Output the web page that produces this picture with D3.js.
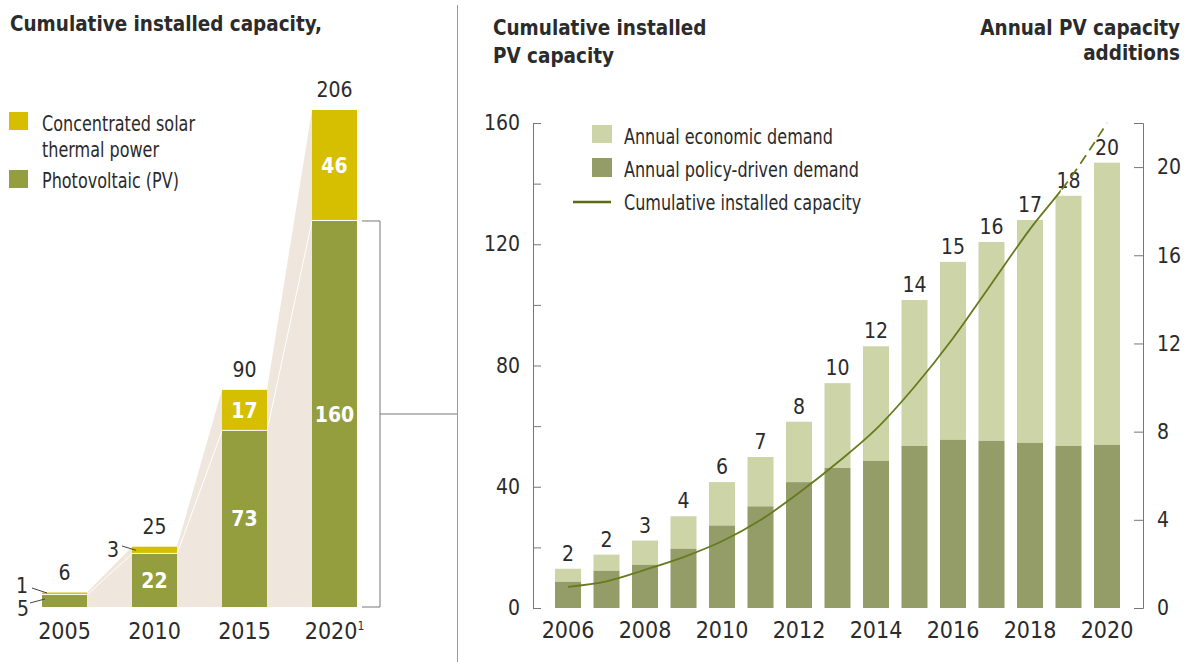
<!DOCTYPE html>
<html>
<head>
<meta charset="utf-8">
<script src="https://cdn.jsdelivr.net/npm/d3@7"></script>
<style>
  body { margin: 0; background: #fff; }
  svg text { font-family: "Liberation Sans Narrow", "DejaVu Sans Condensed", "Roboto Condensed", sans-serif; fill: #2b2b2b; }
  .bold { font-weight: bold; }
</style>
</head>
<body>
<div id="chart"></div>
<script>
// left panel: cumulative installed capacity by technology
const stackYears = ["2005", "2010", "2015", "2020"];
const pvValues = [5, 22, 73, 160];
const cspValues = [1, 3, 17, 46];
const stackTotals = [6, 25, 90, 206];

// right panel: annual PV additions and cumulative PV
const years = d3.range(2006, 2021).map(String);
const totalAdditions = [1.78, 2.42, 3.06, 4.16, 5.71, 6.85, 8.45, 10.2, 11.87, 13.97, 15.7, 16.6, 17.6, 18.7, 20.2];
const policyAdditions = [1.19, 1.69, 1.96, 2.69, 3.74, 4.61, 5.71, 6.35, 6.67, 7.35, 7.63, 7.58, 7.49, 7.35, 7.4];
const additionLabels = ["2", "2", "3", "4", "6", "7", "8", "10", "12", "14", "15", "16", "17", "18", "20"];
const cumulativePV = [7, 8.8, 12.6, 16.8, 22, 29, 38, 48, 59, 73, 89, 107, 125, 141, 160];
const leftTicks = d3.range(0, 161, 20);
const rightTicks = d3.range(0, 21, 4);

const width = 1192;
const height = 662;

const colCSP = "#d6bf00";
const colPV = "#949e3f";
const colBeige = "#efe6dd";
const colEcon = "#cdd4a8";
const colPolicy = "#949c68";
const colLine = "#667a1e";
const colAxis = "#777";

const svg = d3.select("#chart")
    .append("svg")
    .attr("width", width)
    .attr("height", height);

// the original uses a condensed face, so words get squeezed horizontally
function word(x, y, str, size, sx, anchor, bold) {
    return svg.append("text")
        .attr("class", bold ? "bold" : null)
        .attr("transform", `translate(${x},${y}) scale(${sx},1)`)
        .attr("text-anchor", anchor || "start")
        .style("font-size", size + "px")
        .text(str);
}

// ---------- left panel ----------
const xL = d3.scaleBand()
    .domain(stackYears)
    .range([19.5, 379.5])
    .paddingInner(0.5)
    .paddingOuter(0.25);
const yL = d3.scaleLinear()
    .domain([0, 206])
    .range([607, 110]);

// beige wedges between the bars
const wedges = svg.append("g");
for (let i = 0; i < stackYears.length - 1; i++) {
    const x0 = xL(stackYears[i]) + xL.bandwidth();
    const x1 = xL(stackYears[i + 1]);
    wedges.append("path")
        .attr("d", `M${x0},${yL(0)}L${x0},${yL(stackTotals[i])}L${x1},${yL(stackTotals[i + 1])}L${x1},${yL(0)}Z`)
        .style("fill", colBeige);
    wedges.append("line")
        .attr("x1", x0).attr("y1", yL(pvValues[i]))
        .attr("x2", x1).attr("y2", yL(pvValues[i + 1]))
        .style("stroke", "#fff")
        .style("stroke-width", 1);
}

stackYears.forEach((yr, i) => {
    const x = xL(yr);
    svg.append("rect")
        .attr("x", x).attr("y", yL(pvValues[i]))
        .attr("width", xL.bandwidth())
        .attr("height", yL(0) - yL(pvValues[i]))
        .style("fill", colPV);
    svg.append("rect")
        .attr("x", x).attr("y", yL(pvValues[i] + cspValues[i]))
        .attr("width", xL.bandwidth())
        .attr("height", yL(pvValues[i]) - yL(pvValues[i] + cspValues[i]) - 1)
        .style("fill", colCSP);
    svg.append("text")
        .attr("x", x + xL.bandwidth() / 2)
        .attr("y", yL(stackTotals[i]) - 13)
        .attr("text-anchor", "middle")
        .style("font-size", "21px")
        .text(stackTotals[i]);
    // x labels
    const lab = svg.append("text")
        .attr("x", x + xL.bandwidth() / 2)
        .attr("y", 639)
        .attr("text-anchor", "middle")
        .style("font-size", "23px")
        .text(yr);
    if (yr == "2020") {
        lab.append("tspan")
            .attr("dy", -9)
            .style("font-size", "12px")
            .text("1");
    }
});

// white labels inside the larger segments
stackYears.forEach((yr, i) => {
    const cx = xL(yr) + xL.bandwidth() / 2;
    if (pvValues[i] > 10) {
        svg.append("text")
            .attr("class", "bold")
            .attr("x", cx)
            .attr("y", (yL(0) + yL(pvValues[i])) / 2)
            .attr("dy", "0.36em")
            .attr("text-anchor", "middle")
            .style("font-size", "21px")
            .style("fill", "#fff")
            .text(pvValues[i]);
    }
    if (cspValues[i] > 10) {
        svg.append("text")
            .attr("class", "bold")
            .attr("x", cx)
            .attr("y", (yL(pvValues[i]) + yL(pvValues[i] + cspValues[i])) / 2)
            .attr("dy", "0.36em")
            .attr("text-anchor", "middle")
            .style("font-size", "21px")
            .style("fill", "#fff")
            .text(cspValues[i]);
    }
});

// small values with leader lines
function leader(text, tx, ty, x1, y1, x2, y2) {
    svg.append("text")
        .attr("x", tx).attr("y", ty)
        .attr("text-anchor", "end")
        .style("font-size", "21px")
        .text(text);
    svg.append("line")
        .attr("x1", x1).attr("y1", y1)
        .attr("x2", x2).attr("y2", y2)
        .style("stroke", "#444")
        .style("stroke-width", 1);
}
const b05 = xL("2005"), b10 = xL("2010");
leader(cspValues[0], 28, 593, 32, 588, b05 + 5, yL(pvValues[0] + cspValues[0]) + 0.5);
leader(pvValues[0], 29, 616, 30, 603, b05 + 3, yL(pvValues[0] / 2) - 2);
leader(cspValues[1], 119, 557, 122, 546, b10 + 4, yL(pvValues[1] + cspValues[1] / 2));

// bracket from 2020 PV to the right panel
const bx = 380;
svg.append("path")
    .attr("d", `M362,${yL(pvValues[3])}H${bx}V${yL(0)}H362`)
    .style("fill", "none")
    .style("stroke", colAxis)
    .style("stroke-width", 1);
svg.append("line")
    .attr("x1", bx).attr("x2", 457.5)
    .attr("y1", (yL(pvValues[3]) + yL(0)) / 2)
    .attr("y2", (yL(pvValues[3]) + yL(0)) / 2)
    .style("stroke", colAxis);
svg.append("line")
    .attr("x1", 457.5).attr("x2", 457.5)
    .attr("y1", 5).attr("y2", height)
    .style("stroke", "#999");

// left title and legend
word(10, 31, "Cumulative installed capacity,", 22, 0.93, "start", true);
svg.append("rect").attr("x", 9).attr("y", 112).attr("width", 19).attr("height", 18).style("fill", colCSP);
svg.append("rect").attr("x", 9).attr("y", 170).attr("width", 19).attr("height", 18).style("fill", colPV);
word(42, 131, "Concentrated solar", 22, 0.81);
word(42, 157, "thermal power", 22, 0.81);
word(42, 188, "Photovoltaic (PV)", 22, 0.81);

// ---------- right panel ----------
const xR = d3.scaleBand()
    .domain(years)
    .range([548.75, 1126.25])
    .paddingInner(0.3247)
    .paddingOuter(0.16235);
const yCum = d3.scaleLinear()
    .domain([0, 160])
    .range([608, 123]);
const yAdd = d3.scaleLinear()
    .domain([0, 22])
    .range([608, 123]);

const bars = svg.append("g");
years.forEach((yr, i) => {
    bars.append("rect")
        .attr("x", xR(yr)).attr("y", yAdd(totalAdditions[i]))
        .attr("width", xR.bandwidth())
        .attr("height", yAdd(policyAdditions[i]) - yAdd(totalAdditions[i]))
        .style("fill", colEcon);
    bars.append("rect")
        .attr("x", xR(yr)).attr("y", yAdd(policyAdditions[i]))
        .attr("width", xR.bandwidth())
        .attr("height", yAdd(0) - yAdd(policyAdditions[i]))
        .style("fill", colPolicy);
    bars.append("text")
        .attr("x", xR(yr) + xR.bandwidth() / 2)
        .attr("y", yAdd(totalAdditions[i]) - 8)
        .attr("text-anchor", "middle")
        .style("font-size", "21px")
        .text(additionLabels[i]);
});

// axes
const leftAxis = d3.axisLeft(yCum)
    .tickValues(leftTicks)
    .tickSizeInner(-8)
    .tickSizeOuter(-8)
    .tickPadding(13)
    .tickFormat(d => d % 40 == 0 ? d : "");
const gl = svg.append("g")
    .attr("transform", "translate(533,0)")
    .call(leftAxis);
const rightAxis = d3.axisRight(yAdd)
    .tickValues(rightTicks)
    .tickSizeInner(-9)
    .tickSizeOuter(-9)
    .tickPadding(14);
const gr = svg.append("g")
    .attr("transform", "translate(1143,0)")
    .call(rightAxis);
[gl, gr].forEach(g => {
    g.selectAll("path, line").style("stroke", colAxis);
    g.selectAll("text")
        .style("font-size", "21px")
        .attr("fill", null);
    g.attr("font-family", null).attr("font-size", null);
});

// x labels: every other year
years.forEach((yr, i) => {
    if (i % 2 == 0) {
        svg.append("text")
            .attr("x", xR(yr) + xR.bandwidth() / 2)
            .attr("y", 638)
            .attr("text-anchor", "middle")
            .style("font-size", "23px")
            .text(yr);
    }
});

// cumulative line, solid then dashed for the last stretch
const line = d3.line()
    .x((d, i) => xR(years[i]) + xR.bandwidth() / 2)
    .y(d => yCum(d))
    .curve(d3.curveMonotoneX);
const cut = xR("2018") + xR.bandwidth() / 2 + xR.step() * 0.8;
const defs = svg.append("defs");
defs.append("clipPath").attr("id", "solid")
    .append("rect").attr("x", 0).attr("y", 0).attr("width", cut).attr("height", height);
defs.append("clipPath").attr("id", "dashed")
    .append("rect").attr("x", cut).attr("y", 0).attr("width", width - cut).attr("height", height);
svg.append("path")
    .datum(cumulativePV)
    .attr("d", line)
    .attr("clip-path", "url(#solid)")
    .style("fill", "none")
    .style("stroke", colLine)
    .style("stroke-width", 1.8);
svg.append("path")
    .datum(cumulativePV)
    .attr("d", line)
    .attr("clip-path", "url(#dashed)")
    .style("fill", "none")
    .style("stroke", colLine)
    .style("stroke-width", 1.8)
    .style("stroke-dasharray", "10,6");

// right legend
svg.append("rect").attr("x", 592).attr("y", 125).attr("width", 20).attr("height", 18).style("fill", colEcon);
svg.append("rect").attr("x", 592).attr("y", 158).attr("width", 20).attr("height", 19).style("fill", colPolicy);
svg.append("line").attr("x1", 573).attr("x2", 611).attr("y1", 202).attr("y2", 202)
    .style("stroke", "#5d6b10").style("stroke-width", 2.5);
word(624, 144, "Annual economic demand", 22, 0.81);
word(624, 177, "Annual policy-driven demand", 22, 0.81);
word(624, 210, "Cumulative installed capacity", 22, 0.81);

// right titles
word(493, 35, "Cumulative installed", 22, 0.93, "start", true);
word(493, 63, "PV capacity", 22, 0.93, "start", true);
word(1180, 35, "Annual PV capacity", 22, 0.93, "end", true);
word(1180, 60, "additions", 22, 0.93, "end", true);
</script>
</body>
</html>
